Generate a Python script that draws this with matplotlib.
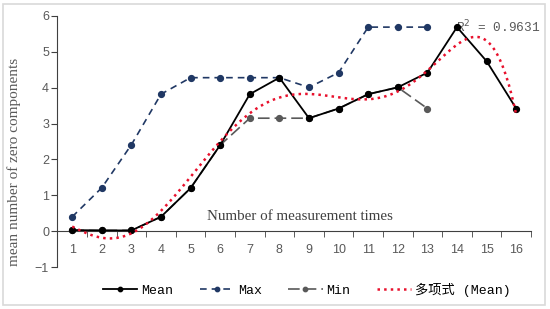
import numpy as np
import matplotlib
matplotlib.use("Agg")
import matplotlib.pyplot as plt
from matplotlib.patches import Rectangle
from matplotlib.ticker import FixedLocator

categories = list(range(1, 17))
mean_vals = [0.03, 0.02, 0.02, 0.40, 1.20, 2.40, 3.82, 4.28, 3.15, 3.42, 3.82, 4.01, 4.42, 5.69, 4.74, 3.42]
max_vals = [0.40, 1.21, 2.41, 3.82, 4.28, 4.28, 4.28, 4.28, 4.01, 4.42, 5.69, 5.69, 5.69]
min_vals = [0.02, 0.02, 0.02, 0.40, 1.20, 2.40, 3.15, 3.15, 3.15, 3.42, 3.82, 4.01, 3.42]
r2_label = "R$^2$ = 0.9631"

plt.rcParams['font.family'] = ['Liberation Mono', 'Noto Sans CJK SC', 'DejaVu Sans']

fig = plt.figure(figsize=(5.5, 3.09), dpi=100)
fig.patch.set_facecolor('white')
fig.patches.append(Rectangle((3/550, 4/309), 542/550, 301/309, transform=fig.transFigure,
                             fill=False, edgecolor='#d9d9d9', linewidth=1.2))

ax = fig.add_axes([57.4/550, 1-267/309, (531-57.4)/550, (267-16)/309])

x_all = np.array(categories, dtype=float)
x_mm = x_all[:len(max_vals)]

ax.plot(x_all, mean_vals, '-', color='black', lw=1.3, marker='o', ms=4.2, label='Mean', zorder=4)
ax.plot(x_mm, max_vals, '--', color='#203864', lw=1.2, marker='o', ms=4.2, dashes=(4, 3), label='Max', zorder=3)
ax.plot(x_mm, min_vals, '-', color='#595959', lw=1.2, marker='o', ms=4.2, dashes=(7, 3), label='Min', zorder=3)

coef = np.polyfit(x_all, mean_vals, 6)
xs = np.linspace(1, 16, 300)
ax.plot(xs, np.polyval(coef, xs), ':', color='#e8112d', lw=1.8, label='多项式 (Mean)', zorder=5)

ax.set_xlim(0.5, 16.5)
ax.set_ylim(-1, 6)

for s in ['top', 'right']:
    ax.spines[s].set_visible(False)
ax.spines['bottom'].set_position(('data', 0))
ax.spines['left'].set_color('#404040')
ax.spines['bottom'].set_color('#404040')

ax.set_yticks(range(-1, 7))
ax.set_yticklabels(['\u22121' if v < 0 else str(v) for v in range(-1, 7)])
ax.tick_params(axis='y', direction='out', length=4, color='#404040', labelcolor='#595959',
               labelsize=9, pad=2)
for lab in ax.get_yticklabels():
    lab.set_family('Liberation Sans')

ax.set_xticks(categories)
ax.set_xticklabels([str(c) for c in categories])
ax.xaxis.set_minor_locator(FixedLocator(np.arange(0.5, 17, 1)))
ax.tick_params(axis='x', which='major', length=0, labelcolor='#595959', labelsize=9, pad=9)
ax.tick_params(axis='x', which='minor', length=4, direction='out', color='#404040')
for lab in ax.get_xticklabels():
    lab.set_family('Liberation Sans')

ax.set_ylabel('mean number of zero components', family='Liberation Serif', fontsize=11,
              color='#595959')
ax.yaxis.set_label_coords(-0.077, 0.418)
ax.text(8.7, 0.40, 'Number of measurement times', family='Liberation Serif', fontsize=10.8,
        color='#404040', ha='center', va='center')
ax.text(13.95, 5.70, r2_label, family='Liberation Mono', fontsize=9.2, color='#595959',
        ha='left', va='center')

fig.legend(loc='center', bbox_to_anchor=(0.558, 1-290/309), ncol=4, frameon=False,
           handlelength=2.6, columnspacing=2.0, handletextpad=0.3, markerscale=0.75,
           prop={'family': ['Liberation Mono', 'Noto Sans CJK SC'], 'size': 9.5})

fig.savefig('out.png', dpi=100)
